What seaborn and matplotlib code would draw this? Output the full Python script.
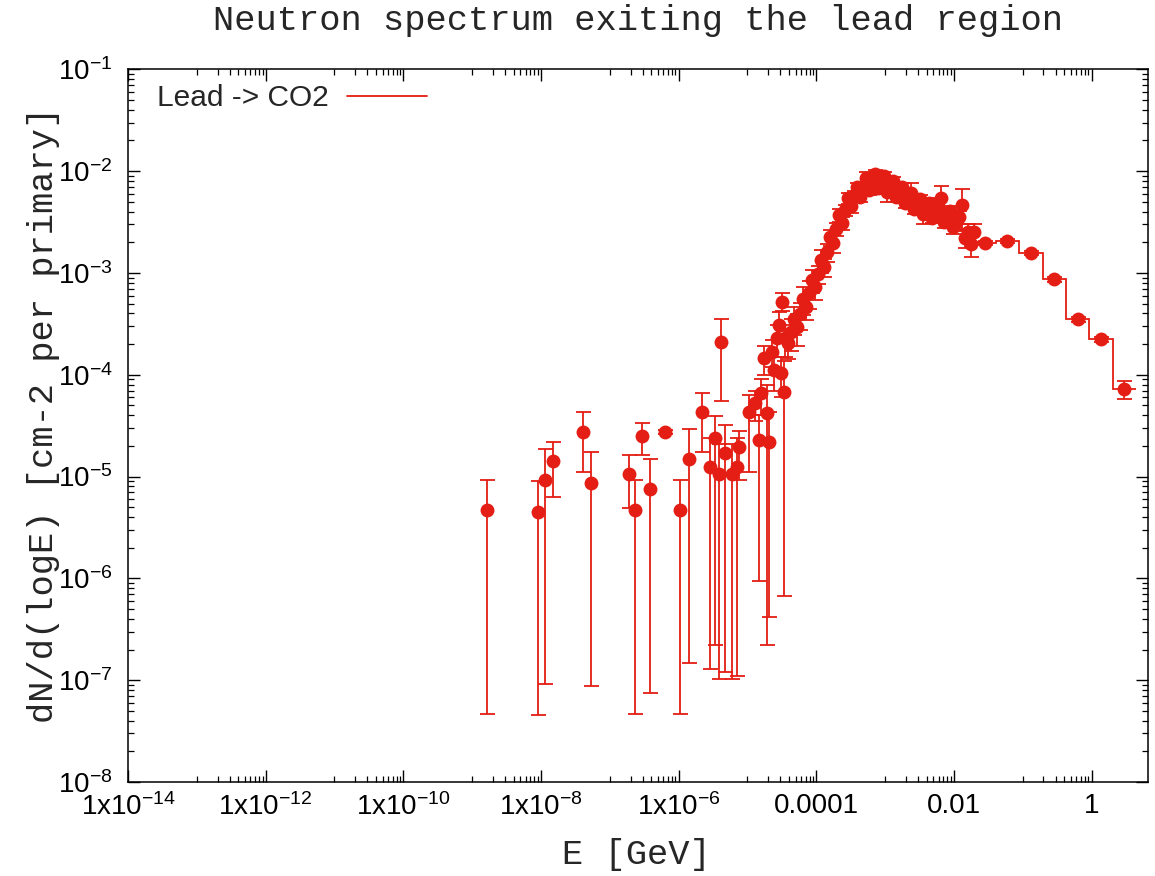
import matplotlib
matplotlib.use("Agg")
import numpy as np
import pandas as pd
import seaborn as sns
import matplotlib.pyplot as plt
from matplotlib.lines import Line2D
from matplotlib.ticker import FixedLocator, FixedFormatter, LogLocator, NullFormatter

# ---------------- data ----------------
# isolated low-energy bins: energy [GeV], value, lower and upper error-bar ends
sparse_E = [1.62e-9, 9.0e-9, 1.16e-8, 1.5e-8, 4.1e-8, 5.3e-8, 1.89e-7, 2.36e-7,
            2.89e-7, 3.78e-7, 6.3e-7, 1.03e-6, 1.41e-6, 2.21e-6, 2.90e-6, 3.43e-6,
            3.83e-6, 4.19e-6, 4.79e-6, 5.97e-6, 7.06e-6, 7.48e-6, 1.04e-5, 1.30e-5,
            1.46e-5, 1.56e-5, 1.72e-5, 1.93e-5, 2.04e-5, 2.28e-5, 2.41e-5, 3.18e-5,
            3.36e-5, 3.05e-5, 2.7e-5, 2.9e-5]
sparse_F = [4.69e-6, 4.45e-6, 9.25e-6, 1.43e-5, 2.72e-5, 8.57e-6, 1.06e-5, 4.69e-6,
            2.52e-5, 7.53e-6, 2.74e-5, 4.69e-6, 1.49e-5, 4.33e-5, 1.25e-5, 2.37e-5,
            1.07e-5, 2.11e-4, 1.69e-5, 1.07e-5, 1.25e-5, 1.96e-5, 4.33e-5, 5.24e-5,
            2.28e-5, 6.56e-5, 1.45e-4, 4.18e-5, 2.2e-5, 1.68e-4, 1.11e-4, 5.21e-4,
            6.8e-5, 1.03e-4, 2.3e-4, 3.1e-4]
sparse_lo = [4.65e-8, 4.5e-8, 9.1e-8, 6.3e-6, 1.11e-5, 8.8e-8, 4.9e-6, 4.65e-8,
             1.63e-5, 7.4e-8, 2.6e-5, 4.65e-8, 1.46e-7, 1.75e-5, 1.3e-7, 2.2e-7,
             1.03e-7, 5.5e-5, 1.2e-7, 1.03e-7, 1.1e-7, 9.2e-6, 1.1e-5, 3.5e-5,
             9.4e-7, 4.0e-5, 1.0e-4, 2.2e-7, 4.2e-7, 1.2e-4, 7.0e-5, 4.2e-4,
             6.7e-7, 6.0e-5, 1.5e-4, 2.1e-4]
sparse_hi = [9.25e-6, 9.1e-6, 1.85e-5, 2.19e-5, 4.33e-5, 1.75e-5, 1.63e-5, 9.25e-6,
             3.33e-5, 1.49e-5, 2.88e-5, 9.25e-6, 2.95e-5, 6.65e-5, 2.4e-5, 3.9e-5,
             2.1e-5, 3.5e-4, 3.2e-5, 2.1e-5, 2.4e-5, 2.8e-5, 6.3e-5, 7.0e-5,
             4.0e-5, 9.0e-5, 1.9e-4, 8.0e-5, 4.3e-5, 2.2e-4, 1.5e-4, 6.3e-4,
             1.35e-4, 1.5e-4, 3.1e-4, 4.1e-4]

# densely populated bins from ~3e-5 GeV to 20 MeV
dense_E = [3.48e-5, 3.85e-5, 4.25e-5, 4.70e-5, 5.20e-5, 5.75e-5, 6.36e-5, 7.03e-5, 7.77e-5, 8.59e-5,
           9.49e-5, 1.05e-4, 1.16e-4, 1.28e-4, 1.42e-4, 1.57e-4, 1.73e-4, 1.92e-4, 2.12e-4, 2.34e-4,
           2.59e-4, 2.86e-4, 3.16e-4, 3.50e-4, 3.87e-4, 4.27e-4, 4.72e-4, 5.22e-4, 5.78e-4, 6.38e-4,
           7.06e-4, 7.80e-4, 8.63e-4, 9.54e-4, 1.05e-3, 1.17e-3, 1.29e-3, 1.42e-3, 1.57e-3, 1.74e-3,
           1.92e-3, 2.13e-3, 2.35e-3, 2.60e-3, 2.87e-3, 3.18e-3, 3.51e-3, 3.88e-3, 4.29e-3, 4.75e-3,
           5.25e-3, 5.80e-3, 6.41e-3, 7.09e-3, 7.84e-3, 8.67e-3, 9.58e-3, 1.06e-2, 1.17e-2, 1.29e-2,
           1.43e-2, 1.58e-2, 1.75e-2, 1.93e-2]
dense_F = [2.30e-4, 2.05e-4, 2.62e-4, 3.52e-4, 2.94e-4, 3.94e-4, 5.54e-4, 4.62e-4, 6.34e-4, 8.51e-4,
           7.26e-4, 9.75e-4, 1.34e-3, 1.14e-3, 1.60e-3, 2.25e-3, 1.97e-3, 2.70e-3, 3.71e-3, 3.09e-3,
           4.15e-3, 5.45e-3, 4.54e-3, 5.69e-3, 6.98e-3, 5.57e-3, 6.98e-3, 8.55e-3, 6.52e-3, 7.81e-3,
           9.37e-3, 6.82e-3, 7.81e-3, 8.95e-3, 6.23e-3, 7.14e-3, 7.99e-3, 5.57e-3, 6.23e-3, 6.98e-3,
           4.86e-3, 5.45e-3, 6.10e-3, 4.25e-3, 4.75e-3, 5.32e-3, 3.79e-3, 4.35e-3, 4.86e-3, 3.46e-3,
           3.97e-3, 4.54e-3, 5.45e-3, 3.16e-3, 3.62e-3, 4.06e-3, 2.83e-3, 3.16e-3, 3.54e-3, 4.65e-3,
           2.20e-3, 2.52e-3, 1.92e-3, 2.52e-3]
dense_relerr = [0.35, 0.30, 0.35, 0.30, 0.35, 0.30, 0.30, 0.25, 0.30, 0.25,
                0.25, 0.20, 0.25, 0.20, 0.20, 0.18, 0.20, 0.15, 0.15, 0.15,
                0.12, 0.12, 0.15, 0.12, 0.10, 0.10, 0.10, 0.15, 0.10, 0.10,
                0.10, 0.12, 0.10, 0.10, 0.20, 0.10, 0.10, 0.10, 0.12, 0.10,
                0.10, 0.10, 0.25, 0.10, 0.12, 0.10, 0.20, 0.10, 0.12, 0.10,
                0.12, 0.10, 0.30, 0.12, 0.15, 0.12, 0.15, 0.15, 0.15, 0.45,
                0.20, 0.20, 0.25, 0.20]

# high-energy bins (histogram steps)
high_edges = [0.0196, 0.041, 0.089, 0.194, 0.42, 0.93, 2.02, 4.4]
high_E = [0.028, 0.060, 0.131, 0.285, 0.625, 1.37, 2.98]
high_F = [1.97e-3, 2.05e-3, 1.58e-3, 8.65e-4, 3.5e-4, 2.23e-4, 7.2e-5]
high_relerr = [0.05, 0.04, 0.05, 0.05, 0.06, 0.06, 0.2]

x_tick_values = [1e-14, 1e-12, 1e-10, 1e-8, 1e-6, 1e-4, 1e-2, 1.0]
x_tick_labels = [r"$\mathdefault{1x10^{-14}}$", r"$\mathdefault{1x10^{-12}}$",
                 r"$\mathdefault{1x10^{-10}}$", r"$\mathdefault{1x10^{-8}}$",
                 r"$\mathdefault{1x10^{-6}}$", "0.0001", "0.01", "1"]

title_text = "Neutron spectrum exiting the lead region"
xlabel_text = "E [GeV]"
ylabel_text = "dN/d(logE) [cm-2 per primary]"
legend_label = "Lead -> CO2"

# ---------------- assemble ----------------
dense_lo = [f * (1 - r) for f, r in zip(dense_F, dense_relerr)]
dense_hi = [f * (1 + r) for f, r in zip(dense_F, dense_relerr)]
high_lo = [f * (1 - r) for f, r in zip(high_F, high_relerr)]
high_hi = [f * (1 + r) for f, r in zip(high_F, high_relerr)]

df = pd.DataFrame({
    "E": sparse_E + dense_E + high_E,
    "F": sparse_F + dense_F + high_F,
    "lo": sparse_lo + dense_lo + high_lo,
    "hi": sparse_hi + dense_hi + high_hi,
})

# ---------------- style ----------------
sns.set_theme(style="ticks")
plt.rcParams["font.family"] = ["Liberation Sans", "DejaVu Sans"]
plt.rcParams["mathtext.fontset"] = "custom"
plt.rcParams["mathtext.rm"] = "Liberation Sans"
plt.rcParams["mathtext.default"] = "regular"
plt.rcParams["axes.linewidth"] = 1.1

RED = "#e41e14"
MONO = ["Liberation Mono", "DejaVu Sans Mono"]

fig = plt.figure(figsize=(11.55, 8.76), dpi=100)
fig.patch.set_facecolor("white")
ax = fig.add_axes([0.11082, 0.10731, 0.88312, 0.81358])
ax.set_facecolor("white")
ax.set_xscale("log")
ax.set_yscale("log")

ax.stairs(high_F, high_edges, baseline=None, color=RED, linewidth=1.3, zorder=2)
ax.errorbar(df["E"], df["F"], yerr=[df["F"] - df["lo"], df["hi"] - df["F"]],
            fmt="none", ecolor=RED, elinewidth=1.3, capsize=5.4, capthick=1.3, zorder=2)
sns.scatterplot(data=df, x="E", y="F", ax=ax, color=RED, s=100, linewidth=0,
                legend=False, zorder=3)

ax.set_xlim(1e-14, 6.6)
ax.set_ylim(1e-8, 0.1)
ax.set_xlabel("")
ax.set_ylabel("")
ax.xaxis.label.set_visible(False)
ax.yaxis.label.set_visible(False)

# x ticks: major every two decades, minor at 10..90 x major
ax.xaxis.set_major_locator(FixedLocator(x_tick_values))
ax.xaxis.set_major_formatter(FixedFormatter(x_tick_labels))
x_minor = [m * 10 * k for m in x_tick_values for k in range(1, 10)]
ax.xaxis.set_minor_locator(FixedLocator(x_minor))
ax.xaxis.set_minor_formatter(NullFormatter())

ax.yaxis.set_major_locator(LogLocator(base=10, numticks=20))
ax.yaxis.set_minor_locator(LogLocator(base=10, subs=np.arange(2, 10), numticks=20))
ax.yaxis.set_minor_formatter(NullFormatter())

ax.tick_params(which="both", direction="in", top=True, right=True, color="black",
               labelsize=20, labelcolor="black")
ax.tick_params(which="major", length=8.6, width=1.0)
ax.tick_params(which="minor", length=4.3, width=0.9)
ax.tick_params(axis="y", which="major", pad=11)
ax.tick_params(axis="x", which="major", pad=8)
for s in ax.spines.values():
    s.set_color("black")
    s.set_linewidth(1.1)

# legend (text first, line sample after)
handle = Line2D([], [], color=RED, linewidth=1.3)
ax.legend([handle], [legend_label], loc="upper left", bbox_to_anchor=(0.0284, 0.979),
          frameon=False, markerfirst=False, handlelength=2.7, handletextpad=0.6,
          fontsize=21.5, borderaxespad=0, borderpad=0)

fig.text(0.5528, 0.977, title_text, ha="center", va="center", family=MONO, fontsize=25.5)
fig.text(0.5506, 0.024, xlabel_text, ha="center", va="center", family=MONO, fontsize=25.5)
fig.text(0.038, 0.526, ylabel_text, ha="center", va="center", rotation=90,
         family=MONO, fontsize=25.5)

fig.savefig("out.png", dpi=100, facecolor="white")
